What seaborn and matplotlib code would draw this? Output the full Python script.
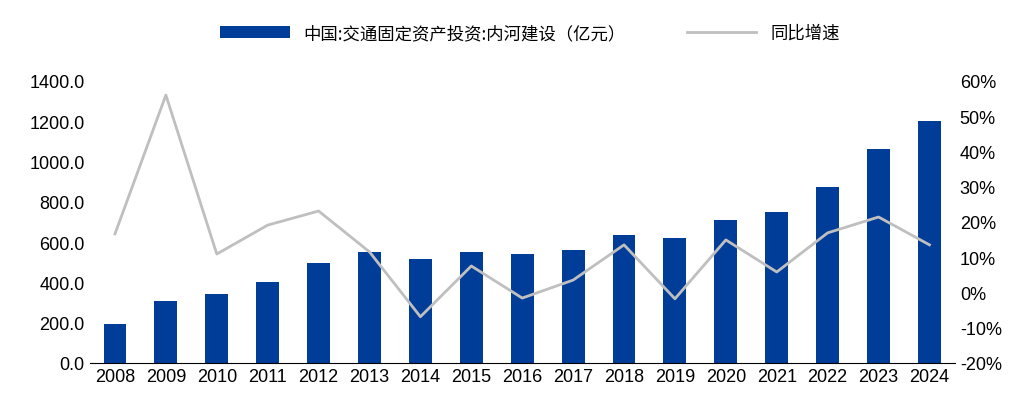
import matplotlib
matplotlib.use("Agg")
import matplotlib.pyplot as plt
import seaborn as sns
import pandas as pd
from matplotlib.ticker import FuncFormatter

years = [str(y) for y in range(2008, 2025)]
invest = [195, 306, 341, 400, 495, 549, 514, 549, 539, 559, 634, 619, 708, 748, 872, 1060, 1200]
growth = [16.6, 56.0, 10.9, 19.1, 23.1, 11.5, -6.9, 7.5, -1.6, 3.5, 13.5, -1.8, 14.9, 5.8, 16.9, 21.4, 13.5]
bar_label = "中国:交通固定资产投资:内河建设（亿元）"
line_label = "同比增速"

plt.rcParams["font.family"] = ["Liberation Sans", "Noto Sans CJK SC"]
df = pd.DataFrame({"year": years, "invest": invest, "growth": growth})

fig = plt.figure(figsize=(10.29, 4.14), dpi=100)
ax = fig.add_axes([0.087, 0.121, 0.841, 0.681])
sns.barplot(data=df, x="year", y="invest", color="#003d99", width=0.45, ax=ax, label=bar_label, saturation=1)
ax.set_ylim(0, 1400)
ax.set_yticks(range(0, 1401, 200))
ax.yaxis.set_major_formatter(FuncFormatter(lambda v, p: f"{v:.1f}"))
ax.set_xlabel(""); ax.set_ylabel("")
ax.set_xlim(-0.5, len(years) - 0.5)
for s in ["top", "right", "left"]:
    ax.spines[s].set_visible(False)
ax.spines["bottom"].set_color("#000000")
ax.tick_params(axis="both", labelsize=13, length=0)
ax.legend().remove()

ax2 = ax.twinx()
sns.lineplot(x=list(range(len(years))), y=growth, color="#bfbfbf", linewidth=2, ax=ax2, label=line_label)
ax2.set_ylim(-20, 60)
ax2.set_yticks(range(-20, 61, 10))
ax2.yaxis.set_major_formatter(FuncFormatter(lambda v, p: f"{v:.0f}%"))
for s in ["top", "right", "left", "bottom"]:
    ax2.spines[s].set_visible(False)
ax2.tick_params(axis="y", labelsize=13, length=0)
ax2.legend().remove()

h1, l1 = ax.get_legend_handles_labels()
h2, l2 = ax2.get_legend_handles_labels()
fig.legend(h1 + h2, l1 + l2, loc="center", bbox_to_anchor=(0.515, 0.918), ncol=2,
           frameon=False, handlelength=4, columnspacing=3.5,
           prop={"family": "Noto Sans CJK SC", "size": 12.5})
fig.savefig("out.png", dpi=100)
